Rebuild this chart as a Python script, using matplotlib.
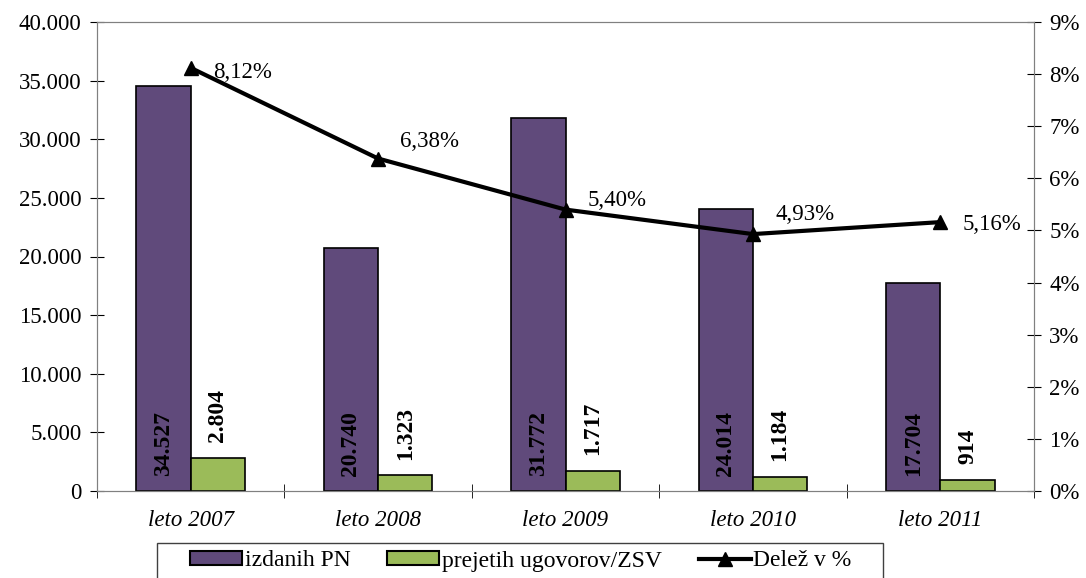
import matplotlib.pyplot as plt
import numpy as np
from matplotlib.patches import Rectangle
from matplotlib.ticker import FuncFormatter, MultipleLocator

plt.rcParams['font.family'] = ['Liberation Serif', 'DejaVu Serif']

# Podatki
leta = ["leto 2007", "leto 2008", "leto 2009", "leto 2010", "leto 2011"]
izdanih_pn = [34527, 20740, 31772, 24014, 17704]
prejetih = [2804, 1323, 1717, 1184, 914]
delez = [8.12, 6.38, 5.40, 4.93, 5.16]

c_vijol = "#604A7B"
c_zel = "#9BBB59"
fs = 16.5


def pika(v):
    return f"{int(v):,}".replace(",", ".")


fig = plt.figure(figsize=(10.86, 5.78), dpi=100)
ax = fig.add_axes([97 / 1086, 1 - 491 / 578, 937 / 1086, 469 / 578])

x = np.arange(len(leta))
w = 0.29
ax.bar(x - w / 2, izdanih_pn, w, color=c_vijol, edgecolor="black", linewidth=1.2,
       label="izdanih PN", zorder=2)
ax.bar(x + w / 2, prejetih, w, color=c_zel, edgecolor="black", linewidth=1.2,
       label="prejetih ugovorov/ZSV", zorder=2)

# oznake vrednosti na stolpcih
for i in range(len(leta)):
    ax.text(x[i] - w / 2, 1250, pika(izdanih_pn[i]), rotation=90, ha="center",
            va="bottom", fontsize=17, fontweight="bold", zorder=3)
    ax.text(x[i] + w / 2, prejetih[i] + 1350, pika(prejetih[i]), rotation=90,
            ha="center", va="bottom", fontsize=17, fontweight="bold", zorder=3)

ax.set_xlim(-0.5, 4.5)
ax.set_ylim(0, 40000)
ax.yaxis.set_major_locator(MultipleLocator(5000))
ax.yaxis.set_major_formatter(FuncFormatter(lambda v, p: pika(v)))
ax.set_xticks(x)
ax.set_xticklabels(leta, fontsize=fs, style="italic")
ax.set_xticks(np.arange(-0.5, 5, 1), minor=True)
ax.tick_params(axis="x", which="major", length=0, pad=14)
ax.tick_params(axis="x", which="minor", length=10, direction="inout")
ax.tick_params(axis="y", labelsize=fs, length=10, direction="inout", pad=6)
for s in ax.spines.values():
    s.set_color("#808080")

ax2 = ax.twinx()
ax2.plot(x, delez, color="black", linewidth=3, marker="^", markersize=10,
         label="Delež v %", zorder=4)
ax2.set_ylim(0, 9)
ax2.yaxis.set_major_locator(MultipleLocator(1))
ax2.yaxis.set_major_formatter(FuncFormatter(lambda v, p: f"{int(v)}%"))
ax2.tick_params(axis="y", labelsize=fs, length=10, direction="inout", pad=6)
for s in ax2.spines.values():
    s.set_color("#808080")

# oznake deleža
odmiki = [(16, -3), (16, 12), (16, 6.5), (16, 14), (16, -2)]
for i, d in enumerate(delez):
    ax2.annotate(f"{d:.2f}%".replace(".", ","), (x[i], d), xytext=odmiki[i],
                 textcoords="offset points", fontsize=fs, ha="left", va="center")

# legenda, okvir narisan posebej (spodaj odrezan kot v izvirniku)
h1, l1 = ax.get_legend_handles_labels()
h2, l2 = ax2.get_legend_handles_labels()
leg = fig.legend(h1 + h2, l1 + l2, loc="center", ncol=3,
                 bbox_to_anchor=(521 / 1086, 1 - 561 / 578), fontsize=17,
                 frameon=False, handlelength=2.2, handleheight=0.55,
                 handletextpad=0.12, columnspacing=1.55, borderpad=0,
                 borderaxespad=0)
for p in leg.get_patches():
    p.set_linewidth(1.5)
fig.patches.append(Rectangle((157 / 1086, -0.01), 726 / 1086, 1 - 543 / 578 + 0.01,
                             transform=fig.transFigure, fill=False,
                             edgecolor="#404040", linewidth=1))

fig.savefig("out.png", dpi=100)
